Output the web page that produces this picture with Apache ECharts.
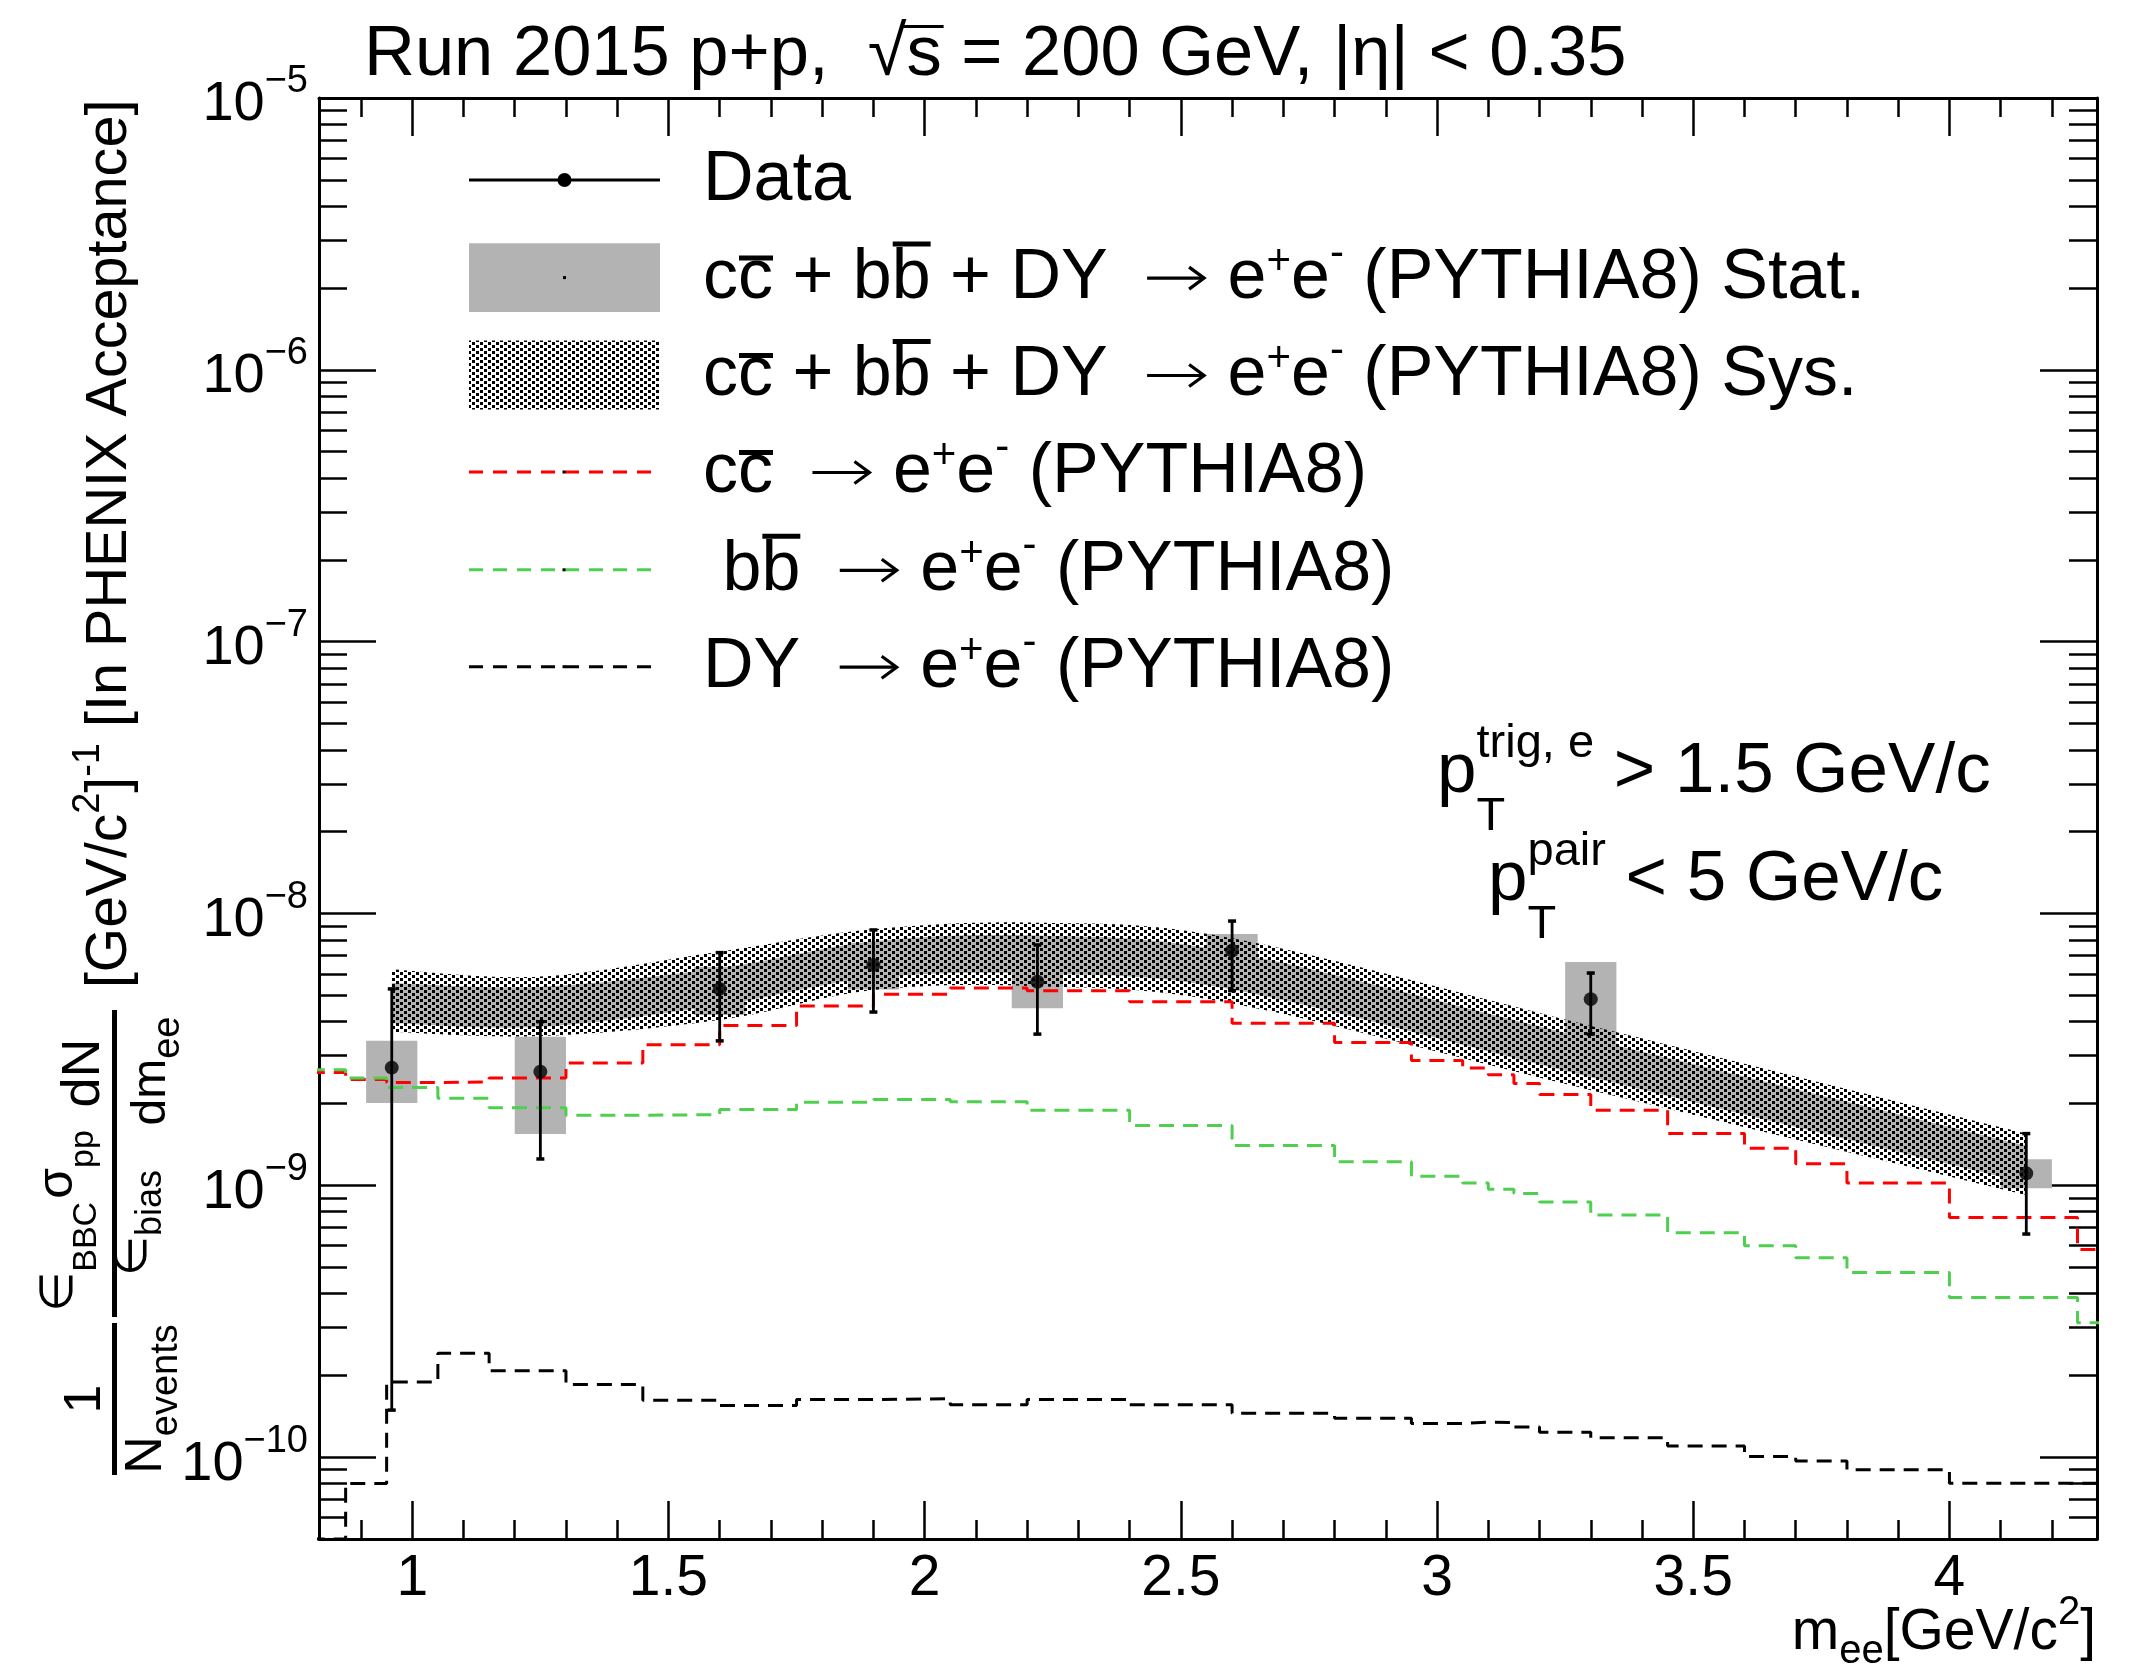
<!DOCTYPE html>
<html>
<head>
<meta charset="utf-8">
<script src="https://cdn.jsdelivr.net/npm/echarts@6/dist/echarts.min.js"></script>
<style>
  html, body { margin: 0; padding: 0; background: #ffffff; }
  #chart { width: 2146px; height: 1671px; }
</style>
</head>
<body>
<div id="chart"></div>
<script>
// ---------------- axis ranges and ticks ----------------
const X_MIN = 0.818, X_MAX = 4.288;
const Y_MIN = 5e-11, Y_MAX = 1e-5;

const xMajorTicks = [1, 1.5, 2, 2.5, 3, 3.5, 4];
const xMinorTicks = [0.9, 1.0, 1.1, 1.2, 1.3, 1.4, 1.5, 1.6, 1.7, 1.8, 1.9, 2.0, 2.1, 2.2, 2.3, 2.4,
                     2.5, 2.6, 2.7, 2.8, 2.9, 3.0, 3.1, 3.2, 3.3, 3.4, 3.5, 3.6, 3.7, 3.8, 3.9, 4.0, 4.1, 4.2];
const yMajorTicks = [1e-10, 1e-9, 1e-8, 1e-7, 1e-6, 1e-5];
const yMinorMantissas = [2, 3, 4, 5, 6, 7, 8, 9];

// ---------------- PYTHIA8 histograms (shared binning) ----------------
const binEdges = [0.80, 0.87, 0.95, 1.05, 1.15, 1.30, 1.45, 1.60, 1.75, 1.90, 2.05, 2.20, 2.40, 2.60,
                  2.80, 2.95, 3.05, 3.10, 3.15, 3.20, 3.30, 3.45, 3.60, 3.70, 3.80, 4.00, 4.25, 4.30];
const ccbarYield = [2.60e-9, 2.45e-9, 2.39e-9, 2.40e-9, 2.48e-9, 2.82e-9, 3.29e-9, 3.87e-9, 4.57e-9,
                    5.05e-9, 5.32e-9, 5.20e-9, 4.74e-9, 3.95e-9, 3.35e-9, 2.88e-9, 2.70e-9, 2.55e-9,
                    2.37e-9, 2.16e-9, 1.89e-9, 1.55e-9, 1.37e-9, 1.20e-9, 1.02e-9, 7.62e-10, 5.81e-10];
const bbbarYield = [2.66e-9, 2.48e-9, 2.29e-9, 2.09e-9, 1.93e-9, 1.81e-9, 1.82e-9, 1.90e-9, 2.02e-9,
                    2.07e-9, 2.03e-9, 1.89e-9, 1.66e-9, 1.40e-9, 1.22e-9, 1.08e-9, 1.02e-9, 9.67e-10,
                    9.34e-10, 8.68e-10, 7.77e-10, 6.69e-10, 5.99e-10, 5.41e-10, 4.78e-10, 3.87e-10, 3.12e-10];
const drellYanYield = [0, 8.0e-11, 1.89e-10, 2.41e-10, 2.08e-10, 1.85e-10, 1.62e-10, 1.55e-10, 1.63e-10,
                       1.64e-10, 1.56e-10, 1.63e-10, 1.56e-10, 1.45e-10, 1.39e-10, 1.33e-10, 1.345e-10, 1.34e-10,
                       1.29e-10, 1.236e-10, 1.178e-10, 1.10e-10, 1.006e-10, 9.69e-11, 8.98e-11, 8.02e-11, 8.02e-11];

// ---------------- measured points ----------------
const dataMass     = [0.96, 1.25, 1.60, 1.90, 2.22, 2.60, 3.30, 4.15];
const dataYield    = [2.71e-9, 2.62e-9, 5.28e-9, 6.46e-9, 5.61e-9, 7.30e-9, 4.84e-9, 1.107e-9];
const dataStatHigh = [5.28e-9, 4.00e-9, 7.18e-9, 8.70e-9, 7.66e-9, 9.38e-9, 6.04e-9, 1.55e-9];
const dataStatLow  = [1.49e-10, 1.25e-9, 3.40e-9, 4.34e-9, 3.60e-9, 5.20e-9, 3.60e-9, 6.62e-10];
const dataSysHigh  = [3.40e-9, 3.52e-9, 6.37e-9, 7.80e-9, 7.00e-9, 8.41e-9, 6.63e-9, 1.247e-9];
const dataSysLow   = [2.01e-9, 1.545e-9, 4.23e-9, 5.25e-9, 4.48e-9, 6.34e-9, 3.06e-9, 9.75e-10];
const dataSysHalfWidth = 0.05;

// ---------------- PYTHIA8 sum, uncertainty bands at the data masses ----------------
const sumSysHigh  = [6.23e-9, 5.86e-9, 7.24e-9, 8.75e-9, 9.25e-9, 8.11e-9, 3.86e-9, 1.55e-9];
const sumSysLow   = [3.67e-9, 3.54e-9, 4.06e-9, 5.23e-9, 5.40e-9, 4.67e-9, 2.24e-9, 9.21e-10];
const sumStatHigh = [5.55e-9, 5.38e-9, 6.30e-9, 7.90e-9, 8.30e-9, 7.20e-9, 3.45e-9, 1.40e-9];
const sumStatLow  = [3.95e-9, 3.83e-9, 4.60e-9, 5.80e-9, 6.00e-9, 5.25e-9, 2.50e-9, 1.02e-9];

// ---------------- styling helpers ----------------
const FONT = '"Liberation Sans", Helvetica, Arial, sans-serif';
const SYM_FONT = '"DejaVu Sans", "Liberation Sans", sans-serif';
const GRAY = '#b3b3b3';
const GREEN = '#4fcf4f';

// checkerboard fill for the systematic band
const checker = document.createElement('canvas');
checker.width = 8; checker.height = 6;
(function () {
  const c = checker.getContext('2d');
  c.fillStyle = '#000';
  c.fillRect(0, 0, 3, 3);
  c.fillRect(4, 3, 3, 3);
})();
const checkerFill = { image: checker, repeat: 'repeat' };

const measureCtx = document.createElement('canvas').getContext('2d');
function textWidth(t, size, fam) {
  measureCtx.font = size + 'px ' + fam;
  return measureCtx.measureText(t).width;
}

// Lays out a run of text pieces (with sub/superscripts, overbars and arrows) on a baseline.
function latex(runs, x0, base, size) {
  const children = [];
  let x = x0, pending = 0;
  runs.forEach(r => {
    x += r.gap || 0;
    if (r.arrow) {
      const y = base - 0.35 * size, w = r.w;
      const st = { stroke: '#000', lineWidth: 3.2, lineCap: 'butt' };
      children.push({ type: 'line', silent: true, shape: { x1: x, y1: y, x2: x + w - 2, y2: y }, style: st });
      children.push({ type: 'polyline', silent: true,
        shape: { points: [[x + w - 15, y - 11], [x + w, y], [x + w - 15, y + 11]] }, style: st });
      x += w + (r.after || 0);
      return;
    }
    const s = r.size || size;
    const fam = r.fam || FONT;
    const w = textWidth(r.t, s, fam);
    const b = base - (r.rise || 0);
    children.push({
      type: 'text', x: x, y: b - 0.3465 * s, silent: true,
      style: { text: r.t, fontSize: s, fontFamily: fam, fill: '#000', align: 'left', verticalAlign: 'middle' }
    });
    if (r.bar) {
      const th = r.barH || 5;
      const x1 = x + (r.barX0 || 1);
      children.push({
        type: 'rect', silent: true,
        shape: { x: x1, y: b - r.bar - th, width: x + w + (r.barX1 || 0) - x1, height: th },
        style: { fill: '#000' }
      });
    }
    if (r.stack) { pending = Math.max(pending, w); }
    else { x += Math.max(w, pending); pending = 0; }
  });
  return { children: children, width: x - x0 };
}
function latexCentered(runs, cx, base, size) {
  const w = latex(runs, 0, 0, size).width;
  return latex(runs, cx - w / 2, base, size).children;
}

// Catmull-Rom sampling of a pixel polyline, used to draw smooth band edges
function smoothPath(p) {
  const out = [];
  const n = p.length;
  for (let i = 0; i < n - 1; i++) {
    const p0 = p[Math.max(i - 1, 0)], p1 = p[i], p2 = p[i + 1], p3 = p[Math.min(i + 2, n - 1)];
    for (let k = 0; k < 24; k++) {
      const t = k / 24, t2 = t * t, t3 = t2 * t;
      const f = j => 0.5 * (2 * p1[j] + (-p0[j] + p2[j]) * t + (2 * p0[j] - 5 * p1[j] + 4 * p2[j] - p3[j]) * t2 +
                            (-p0[j] + 3 * p1[j] - 3 * p2[j] + p3[j]) * t3);
      out.push([f(0), f(1)]);
    }
  }
  out.push(p[n - 1].slice());
  return out;
}

function bandSeries(high, low, fill, z) {
  return {
    type: 'custom', coordinateSystem: 'cartesian2d', xAxisIndex: 0, yAxisIndex: 0,
    data: [[dataMass[0], high[0]]], z: z, silent: true, animation: false,
    renderItem: function (params, api) {
      const up = dataMass.map((x, i) => api.coord([x, high[i]]));
      const lo = dataMass.map((x, i) => api.coord([x, low[i]]));
      const pts = smoothPath(up).concat(smoothPath(lo).reverse());
      return { type: 'polygon', shape: { points: pts }, style: { fill: fill, stroke: null } };
    }
  };
}

function histData(values) {
  const pts = values.map((v, i) => [binEdges[i], v > 0 ? v : Y_MIN]);
  const last = values[values.length - 1];
  pts.push([binEdges[binEdges.length - 1], last > 0 ? last : Y_MIN]);
  return pts;
}

function histSeries(values, color, z) {
  return {
    type: 'line', step: 'end', data: histData(values), xAxisIndex: 0, yAxisIndex: 0,
    symbol: 'none', showSymbol: false, clip: true, silent: true, animation: false, z: z,
    lineStyle: { color: color, width: 3, type: [15, 9] }
  };
}

// ---------------- axes ----------------
const yMinorTicks = [];
for (let e = -11; e <= -6; e++) {
  yMinorMantissas.forEach(m => {
    const v = m * Math.pow(10, e);
    if (v > Y_MIN * 1.01 && v < Y_MAX) yMinorTicks.push(v);
  });
}

const TICK_STYLE = { color: '#000', width: 2.5 };
const AXIS_LINE = { show: true, lineStyle: { color: '#000', width: 3 } };

function xAxisDef(position, ticks, len, withLabels, withLine) {
  return {
    type: 'value', gridIndex: 0, position: position, min: X_MIN, max: X_MAX,
    axisLine: withLine ? AXIS_LINE : { show: false },
    axisTick: { show: true, inside: true, length: len, customValues: ticks, lineStyle: TICK_STYLE },
    axisLabel: withLabels ? {
      show: true, customValues: xMajorTicks, margin: 12, color: '#000',
      fontSize: 57, fontFamily: FONT,
      formatter: v => String(+(+v).toFixed(2))
    } : { show: false },
    splitLine: { show: false }, minorTick: { show: false }
  };
}
function yAxisDef(position, ticks, len, withLabels, withLine) {
  return {
    type: 'log', logBase: 10, gridIndex: 0, position: position, min: Y_MIN, max: Y_MAX,
    axisLine: withLine ? AXIS_LINE : { show: false },
    axisTick: { show: true, inside: true, length: len, customValues: ticks, lineStyle: TICK_STYLE },
    axisLabel: withLabels ? {
      show: true, customValues: yMajorTicks, margin: 11, color: '#000',
      formatter: v => '{b|10}{e|\u2212' + Math.round(-Math.log10(v)) + '}',
      rich: {
        b: { fontSize: 56, fontFamily: FONT, color: '#000', lineHeight: 70, verticalAlign: 'bottom' },
        e: { fontSize: 38, fontFamily: FONT, color: '#000', lineHeight: 70, verticalAlign: 'top' }
      }
    } : { show: false },
    splitLine: { show: false }, minorTick: { show: false }
  };
}

// ---------------- text blocks ----------------
const graphics = [];
function addAll(list) { list.forEach(e => graphics.push(e)); }

// title
addAll(latex([
  { t: 'Run 2015 p+p,  ' },
  { t: '\u221A' },
  { t: 's', bar: 52, barH: 3, barX0: -4, barX1: 2 },
  { t: ' = 200 GeV, |\u03B7| < 0.35' }
], 364, 80, 70.5).children);

// legend
const LEG_X0 = 469, LEG_X1 = 660, LEG_TEXT_X = 703, LEG_SIZE = 70;
const legendRows = [180, 277.6, 375, 472, 569.8, 666.7];
const ARROW = { arrow: true, w: 57, gap: 20, after: 4 };
const SUP_PLUS = { t: '+', size: 42, rise: 26 };
const SUP_MINUS = { t: '-', size: 42, rise: 34 };
const eePair = [{ t: ' e' }, SUP_PLUS, { t: 'e' }, SUP_MINUS];
const sumLabel = [{ t: 'c' }, { t: 'c', bar: 42 }, { t: ' + b' }, { t: 'b', bar: 56 }, { t: ' + DY ' }, ARROW].concat(eePair);
const legendTexts = [
  [{ t: 'Data' }],
  sumLabel.concat([{ t: ' (PYTHIA8) Stat.' }]),
  sumLabel.concat([{ t: ' (PYTHIA8) Sys.' }]),
  [{ t: 'c' }, { t: 'c', bar: 42 }, { t: ' ' }, ARROW].concat(eePair, [{ t: ' (PYTHIA8)' }]),
  [{ t: ' b' }, { t: 'b', bar: 56 }, { t: ' ' }, ARROW].concat(eePair, [{ t: ' (PYTHIA8)' }]),
  [{ t: 'DY ' }, ARROW].concat(eePair, [{ t: ' (PYTHIA8)' }])
];
legendTexts.forEach((runs, i) => addAll(latex(runs, LEG_TEXT_X, legendRows[i] + 25, LEG_SIZE).children));

const legMid = (LEG_X0 + LEG_X1) / 2;
// Data entry: line with marker
graphics.push({ type: 'line', silent: true, shape: { x1: LEG_X0, y1: legendRows[0], x2: LEG_X1, y2: legendRows[0] },
  style: { stroke: '#000', lineWidth: 3 } });
graphics.push({ type: 'circle', silent: true, shape: { cx: legMid, cy: legendRows[0], r: 7 }, style: { fill: '#000' } });
// Stat entry: gray box
graphics.push({ type: 'rect', silent: true, shape: { x: LEG_X0, y: legendRows[1] - 34.3, width: LEG_X1 - LEG_X0, height: 68.6 },
  style: { fill: GRAY } });
graphics.push({ type: 'rect', silent: true, shape: { x: legMid - 1.5, y: legendRows[1] - 1.5, width: 3, height: 3 }, style: { fill: '#000' } });
// Sys entry: checker box
graphics.push({ type: 'rect', silent: true, shape: { x: LEG_X0, y: legendRows[2] - 34.4, width: LEG_X1 - LEG_X0, height: 68.9 },
  style: { fill: checkerFill } });
// dashed curve entries
[[3, '#ff0000'], [4, GREEN], [5, '#000000']].forEach(([row, color]) => {
  graphics.push({ type: 'line', silent: true, shape: { x1: LEG_X0, y1: legendRows[row], x2: 651, y2: legendRows[row] },
    style: { stroke: color, lineWidth: 3, lineDash: [14, 10] } });
  graphics.push({ type: 'rect', silent: true, shape: { x: legMid - 2, y: legendRows[row] - 1.5, width: 3, height: 3 }, style: { fill: '#000' } });
});

// kinematic cuts
addAll(latex([{ t: 'p' }, { t: 'trig, e', size: 47, rise: 37, stack: true }, { t: 'T', size: 47, rise: -36 },
  { t: ' > 1.5 GeV/c' }], 1437, 797, 71).children);
addAll(latex([{ t: 'p' }, { t: 'pair', size: 47, rise: 37, stack: true }, { t: 'T', size: 47, rise: -36 },
  { t: ' < 5 GeV/c' }], 1488, 905, 71).children);

// x-axis title, right aligned to the frame
(function () {
  const runs = [{ t: 'm' }, { t: 'ee', size: 40, rise: -13 }, { t: '[GeV/c' }, { t: '2', size: 40, rise: 26 }, { t: ']' }];
  const w = latex(runs, 0, 0, 57).width;
  addAll(latex(runs, 2096 - w, 1653, 57).children);
})();

// y-axis title, drawn in a rotated frame (local x runs up the page)
(function () {
  const ch = [];
  const push = list => list.forEach(e => ch.push(e));
  // 1 / N_events
  push(latexCentered([{ t: '1' }], 272, 104, 52));
  ch.push({ type: 'rect', silent: true, shape: { x: 196, y: 112, width: 152, height: 5 }, style: { fill: '#000' } });
  push(latexCentered([{ t: 'N' }, { t: 'events', size: 38, rise: -15 }], 272, 165, 52));
  // eps_BBC sigma_pp / eps_bias  and  dN / dm_ee
  ch.push({ type: 'rect', silent: true, shape: { x: 354, y: 112, width: 307, height: 5 }, style: { fill: '#000' } });
  push(latexCentered([{ t: '\u2208', fam: SYM_FONT, size: 46 }, { t: 'BBC', size: 34, rise: -22 },
    { t: '\u03C3', size: 50, gap: 3 }, { t: 'pp', size: 34, rise: -19 }], 450, 76, 46));
  push(latexCentered([{ t: '\u2208', fam: SYM_FONT, size: 46 }, { t: 'bias', size: 36, rise: -14 }], 448, 150, 46));
  push(latexCentered([{ t: 'dN' }], 598, 103, 54));
  push(latexCentered([{ t: 'dm' }, { t: 'ee', size: 38, rise: -14 }], 600, 168, 48));
  // units and acceptance note
  push(latex([{ t: '[GeV/c' }, { t: '2', size: 38, rise: 28 }, { t: ']' }, { t: '-1', size: 38, rise: 28 }], 683, 130, 57).children);
  push(latex([{ t: '[In PHENIX Acceptance]' }], 944, 130, 57.6).children);
  graphics.push({ type: 'group', x: 0, y: 1671, rotation: Math.PI / 2, silent: true, children: ch });
})();

// ---------------- chart ----------------
const chart = echarts.init(document.getElementById('chart'), null, { renderer: 'canvas', width: 2146, height: 1671 });
chart.setOption({
  backgroundColor: '#ffffff',
  animation: false,
  grid: { left: 319, right: 49, top: 98, bottom: 132, containLabel: false, outerBoundsMode: 'none' },
  xAxis: [
    xAxisDef('bottom', xMajorTicks, 38, true, true),
    xAxisDef('bottom', xMinorTicks, 19, false, false),
    xAxisDef('top', xMajorTicks, 38, false, true),
    xAxisDef('top', xMinorTicks, 19, false, false)
  ],
  yAxis: [
    yAxisDef('left', yMajorTicks, 57, true, true),
    yAxisDef('left', yMinorTicks, 28, false, false),
    yAxisDef('right', yMajorTicks, 57, false, true),
    yAxisDef('right', yMinorTicks, 28, false, false)
  ],
  series: [
    // data systematic boxes
    {
      type: 'custom', xAxisIndex: 0, yAxisIndex: 0, z: 2, silent: true, animation: false,
      data: dataMass.map((x, i) => [x, dataSysLow[i], dataSysHigh[i]]),
      encode: { x: 0, y: [1, 2] },
      renderItem: function (params, api) {
        const x = api.value(0);
        const a = api.coord([x - dataSysHalfWidth, api.value(2)]);
        const b = api.coord([x + dataSysHalfWidth, api.value(1)]);
        return { type: 'rect', shape: { x: a[0], y: a[1], width: b[0] - a[0], height: b[1] - a[1] }, style: { fill: GRAY } };
      }
    },
    bandSeries(sumStatHigh, sumStatLow, GRAY, 3),
    bandSeries(sumSysHigh, sumSysLow, checkerFill, 4),
    histSeries(ccbarYield, '#ff0000', 5),
    histSeries(bbbarYield, GREEN, 5),
    histSeries(drellYanYield, '#000000', 5),
    // statistical error bars
    {
      type: 'custom', xAxisIndex: 0, yAxisIndex: 0, z: 6, silent: true, animation: false,
      data: dataMass.map((x, i) => [x, dataStatLow[i], dataStatHigh[i]]),
      encode: { x: 0, y: [1, 2] },
      renderItem: function (params, api) {
        const x = api.value(0);
        const lo = api.coord([x, api.value(1)]);
        const hi = api.coord([x, api.value(2)]);
        const st = { stroke: '#000', lineWidth: 2.8 };
        const cap = { stroke: '#000', lineWidth: 3.5 };
        return {
          type: 'group', children: [
            { type: 'line', shape: { x1: lo[0], y1: lo[1], x2: hi[0], y2: hi[1] }, style: st },
            { type: 'line', shape: { x1: lo[0] - 4, y1: lo[1], x2: lo[0] + 4, y2: lo[1] }, style: cap },
            { type: 'line', shape: { x1: hi[0] - 4, y1: hi[1], x2: hi[0] + 4, y2: hi[1] }, style: cap }
          ]
        };
      }
    },
    {
      type: 'scatter', xAxisIndex: 0, yAxisIndex: 0, z: 7, silent: true, animation: false,
      data: dataMass.map((x, i) => [x, dataYield[i]]),
      symbol: 'circle', symbolSize: 14, itemStyle: { color: '#000' }
    }
  ],
  graphic: { elements: graphics }
});
</script>
</body>
</html>
